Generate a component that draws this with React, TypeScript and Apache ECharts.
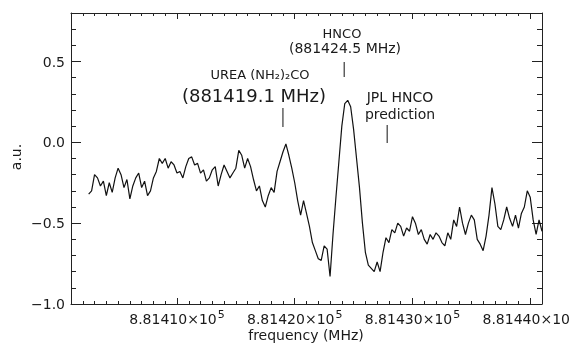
import { useEffect, useRef } from 'react';
import * as echarts from 'echarts';

// Spectrum sampled on a 0.25 MHz channel grid starting at 881402.5 MHz
const FREQ_START = 881402.5;
const FREQ_STEP = 0.25;
const intensity = [
  -0.32, -0.30,
  -0.20, -0.22, -0.27, -0.24,
  -0.33, -0.25, -0.31, -0.22,
  -0.16, -0.20, -0.28, -0.23,
  -0.35, -0.27, -0.22, -0.19,
  -0.28, -0.24, -0.33, -0.30,
  -0.22, -0.18, -0.10, -0.13,
  -0.10, -0.16, -0.12, -0.14,
  -0.19, -0.18, -0.22, -0.15,
  -0.10, -0.09, -0.14, -0.13,
  -0.19, -0.17, -0.24, -0.22,
  -0.17, -0.15, -0.27, -0.20,
  -0.14, -0.18, -0.22, -0.19,
  -0.16, -0.05, -0.08, -0.16,
  -0.10, -0.15, -0.23, -0.30,
  -0.27, -0.36, -0.40, -0.33,
  -0.28, -0.31, -0.18, -0.12,
  -0.06, -0.01, -0.08, -0.16,
  -0.25, -0.36, -0.45, -0.36,
  -0.44, -0.52, -0.62, -0.67,
  -0.72, -0.73, -0.64, -0.66,
  -0.83, -0.57, -0.34, -0.12,
  0.10, 0.24, 0.26, 0.22,
  0.08, -0.10, -0.28, -0.50,
  -0.68, -0.76, -0.78, -0.80,
  -0.74, -0.80, -0.68, -0.59,
  -0.62, -0.54, -0.56, -0.50,
  -0.52, -0.58, -0.53, -0.55,
  -0.46, -0.50, -0.57, -0.54,
  -0.60, -0.63, -0.57, -0.60,
  -0.56, -0.58, -0.62, -0.64,
  -0.56, -0.60, -0.48, -0.52,
  -0.40, -0.50, -0.57, -0.50,
  -0.45, -0.48, -0.60, -0.63,
  -0.67, -0.58, -0.45, -0.28,
  -0.38, -0.52, -0.54, -0.48,
  -0.40, -0.47, -0.52, -0.45,
  -0.53, -0.44, -0.40, -0.30,
  -0.34, -0.48, -0.57, -0.48,
  -0.55,
];

const X_MIN = 881401;
const X_MAX = 881441;
const Y_MIN = -1.0;
const Y_MAX = 0.8;

const xMajorTicks = [881410, 881420, 881430, 881440];
const xMinorTicks = [
  881402, 881403, 881404, 881405, 881406, 881407, 881408, 881409, 881410,
  881411, 881412, 881413, 881414, 881415, 881416, 881417, 881418, 881419, 881420,
  881421, 881422, 881423, 881424, 881425, 881426, 881427, 881428, 881429, 881430,
  881431, 881432, 881433, 881434, 881435, 881436, 881437, 881438, 881439, 881440,
];
const yMajorTicks = [-1.0, -0.5, 0.0, 0.5];
const yMinorTicks = [-0.9, -0.8, -0.7, -0.6, -0.5, -0.4, -0.3, -0.2, -0.1, 0.0, 0.1, 0.2, 0.3, 0.4, 0.5, 0.6, 0.7];

// Line annotations: tick frequency (MHz)
const ureaTickFreq = 881419.0;
const hncoTickFreq = 881424.2;
const jplTickFreq = 881427.85;

const FONT = 'DejaVu Sans';
const TEXT_COLOR = '#1a1a1a';
const AXIS_COLOR = '#222';

export default function App() {
  const ref = useRef<HTMLDivElement>(null);

  useEffect(() => {
    if (!ref.current) return;
    const chart = echarts.init(ref.current, undefined, { renderer: 'svg' });

    const lineStyle = { color: AXIS_COLOR, width: 1 };
    const xAxis = (position: string, ticks: number[], len: number, showLine: boolean, labels: boolean) => ({
      type: 'value',
      position,
      min: X_MIN,
      max: X_MAX,
      axisLine: { show: showLine, onZero: false, lineStyle },
      axisTick: { show: true, inside: true, length: len, customValues: ticks, lineStyle },
      axisLabel: labels
        ? {
            show: true,
            customValues: xMajorTicks,
            formatter: (v: number) => '{n|' + (v / 1e5).toFixed(5) + '×10}{s|5}',
            rich: {
              n: { fontSize: 14, fontFamily: FONT, color: TEXT_COLOR, verticalAlign: 'bottom' },
              s: { fontSize: 11, fontFamily: FONT, color: TEXT_COLOR, verticalAlign: 'bottom', padding: [0, 0, 6, 1] },
            },
            margin: 5,
          }
        : { show: false },
      splitLine: { show: false },
    });
    const yAxis = (position: string, ticks: number[], len: number, showLine: boolean, labels: boolean) => ({
      type: 'value',
      position,
      min: Y_MIN,
      max: Y_MAX,
      axisLine: { show: showLine, onZero: false, lineStyle },
      axisTick: { show: true, inside: true, length: len, customValues: ticks, lineStyle },
      axisLabel: labels
        ? {
            show: true,
            customValues: yMajorTicks,
            formatter: (v: number) => v.toFixed(1).replace('-', '−'),
            fontSize: 14,
            fontFamily: FONT,
            color: TEXT_COLOR,
            margin: 6,
          }
        : { show: false },
      splitLine: { show: false },
    });

    const data = intensity.map((v, i) => [FREQ_START + i * FREQ_STEP, v]);

    chart.setOption({
      animation: false,
      grid: { left: 71, right: 27, top: 13, bottom: 39, containLabel: false, outerBoundsMode: 'none' },
      xAxis: [
        xAxis('bottom', xMajorTicks, 6, true, true),
        xAxis('bottom', xMinorTicks, 3, false, false),
        xAxis('top', xMajorTicks, 6, true, false),
        xAxis('top', xMinorTicks, 3, false, false),
      ],
      yAxis: [
        yAxis('left', yMajorTicks, 10, true, true),
        yAxis('left', yMinorTicks, 5, false, false),
        yAxis('right', yMajorTicks, 10, true, false),
        yAxis('right', yMinorTicks, 5, false, false),
      ],
      series: [
        {
          type: 'line',
          xAxisIndex: 0,
          yAxisIndex: 0,
          data,
          showSymbol: false,
          symbol: 'none',
          lineStyle: { color: '#111', width: 1.2 },
          silent: true,
        },
      ],
    });

    const px = (f: number) => chart.convertToPixel({ xAxisIndex: 0 }, f) as number;
    const txt = (text: string, x: number, y: number, size: number, rotation = 0) => ({
      type: 'text',
      x,
      y,
      rotation,
      style: {
        text,
        fill: TEXT_COLOR,
        fontSize: size,
        fontFamily: FONT,
        align: 'center',
        verticalAlign: 'middle',
      },
    });
    const tick = (x: number, y1: number, y2: number) => ({
      type: 'line',
      shape: { x1: x, y1, x2: x, y2 },
      style: { stroke: '#111', lineWidth: 1 },
    });

    chart.setOption({
      graphic: [
        txt('HNCO', 342, 33, 13),
        txt('(881424.5 MHz)', 345, 48, 14),
        tick(px(hncoTickFreq), 62, 77),
        txt('UREA (NH₂)₂CO', 260, 74, 13),
        txt('(881419.1 MHz)', 254, 95, 18),
        tick(px(ureaTickFreq), 108, 127),
        txt('JPL HNCO', 400, 97, 14),
        txt('prediction', 400, 114, 14),
        tick(px(jplTickFreq), 125, 143),
        txt('frequency (MHz)', 306, 335, 14),
        txt('a.u.', 16, 157, 14, Math.PI / 2),
      ],
    });

    return () => chart.dispose();
  }, []);

  return <div ref={ref} style={{ position: 'fixed', left: 0, top: 0, width: 569, height: 343 }} />;
}
